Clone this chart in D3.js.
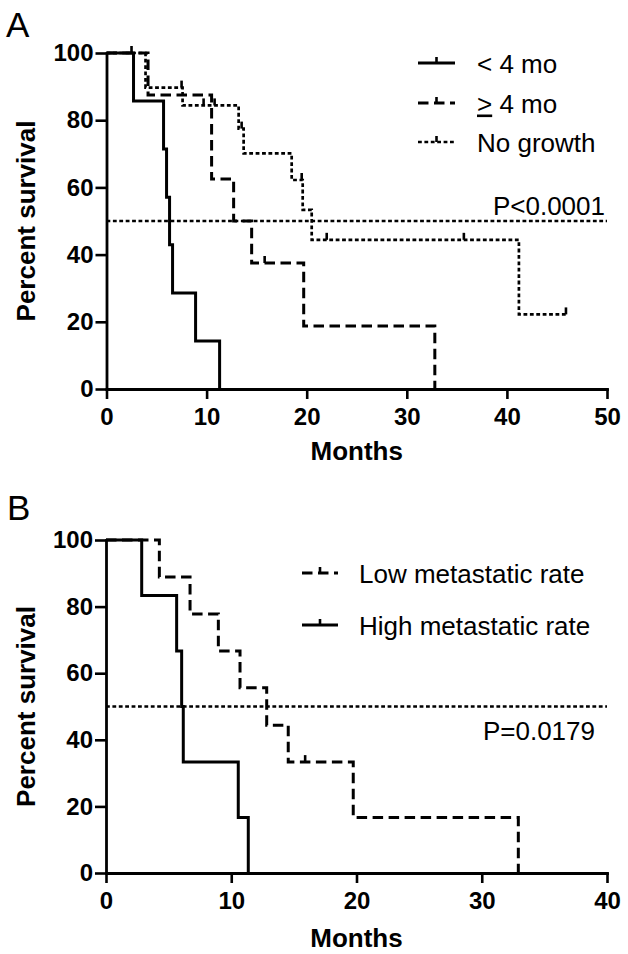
<!DOCTYPE html>
<html><head><meta charset="utf-8">
<script src="https://cdn.jsdelivr.net/npm/d3@7"></script>
<style>
body{margin:0;background:#fff;}
svg{display:block;font-family:"Liberation Sans",Arial,Helvetica,sans-serif;}
</style></head><body>
<svg id="chart" width="628" height="954"></svg>
<script>
// ---------- Shared tick labels ----------
const survTicks = [0, 20, 40, 60, 80, 100];
const monthTicksA = [0, 10, 20, 30, 40, 50];
const monthTicksB = [0, 10, 20, 30, 40];

// ---------- Panel A data (months, percent survival after event) ----------
const lt4Times   = [0, 2.7, 5.7, 6.0, 6.3, 6.6, 8.9, 11.3];
const lt4Surv    = [100, 85.7, 71.4, 57.1, 42.9, 28.6, 14.3, 0];
const lt4Censor  = [2.5];

const ge4Times   = [0, 4.15, 10.5, 12.7, 14.5, 19.7, 32.8];
const ge4Surv    = [100, 87.5, 62.5, 50, 37.5, 18.75, 0];
const ge4Censor  = [15.8];

const noGrowthTimes  = [0, 3.9, 7.6, 13.2, 13.7, 18.5, 19.6, 20.5, 41.2];
const noGrowthSurv   = [100, 89.7, 84.4, 77.5, 70.1, 62.2, 53.3, 44.4, 22.2];
const noGrowthCensor = [7.5, 9.7, 10.8, 13.5, 19.5, 22.0, 35.7, 45.9];

// ---------- Panel B data ----------
const lowTimes   = [0, 4.26, 6.71, 8.97, 10.7, 12.83, 14.55, 19.74, 32.92];
const lowSurv    = [100, 88.9, 77.8, 66.7, 55.6, 44.4, 33.3, 16.7, 0];
const lowCensor  = [15.9];

const highTimes  = [0, 2.85, 5.64, 6.04, 6.17, 10.56, 11.36];
const highSurv   = [100, 83.3, 66.7, 50, 33.3, 16.7, 0];
const highCensor = [];

const legendA = ["< 4 mo", "\u2265 4 mo", "No growth"];
const legendB = ["Low metastatic rate", "High metastatic rate"];
const pValueA = "P<0.0001";
const pValueB = "P=0.0179";
const medianLevel = 50;

// ---------- Styles ----------
const STY = {
  solid:  {w: 3,   dash: null},
  dashed: {w: 3,   dash: "10.5,5.5"},
  dotted: {w: 2.7, dash: "3.8,2.6"}
};

const svg = d3.select("#chart");

function survAt(times, surv, t) {
  let idx = d3.bisectRight(times, t) - 1;
  return surv[Math.max(0, idx)];
}

function drawPanel(o) {
  const x = d3.scaleLinear().domain(o.xDomain).range(o.xRange);
  const y = d3.scaleLinear().domain([0, 100]).range(o.yRange);
  const g = svg.append("g");

  // panel letter
  g.append("text").attr("x", o.letterX).attr("y", o.letterY)
    .attr("font-size", 35).text(o.letter);

  // axes
  const ya = g.append("g").attr("transform", `translate(${x(0)},0)`)
    .call(d3.axisLeft(y).tickValues(survTicks).tickSize(11).tickSizeOuter(0).tickPadding(2));
  const xa = g.append("g").attr("transform", `translate(0,${y(0)})`)
    .call(d3.axisBottom(x).tickValues(o.xTicks).tickSize(10).tickSizeOuter(0).tickPadding(9));
  [ya, xa].forEach(a => {
    a.select(".domain").attr("stroke", "#000").attr("stroke-width", 2.8).attr("stroke-linecap", "square");
    a.selectAll(".tick line").attr("stroke", "#000").attr("stroke-width", 2.6);
    a.selectAll(".tick text").attr("font-size", 24).attr("font-weight", "bold")
      .attr("fill", "#000").attr("font-family", "'Liberation Sans',Arial,sans-serif");
  });

  // axis titles
  g.append("text").attr("transform", `translate(35,${(o.yRange[0] + o.yRange[1]) / 2}) rotate(-90)`)
    .attr("text-anchor", "middle").attr("font-size", 26).attr("font-weight", "bold")
    .text("Percent survival");
  g.append("text").attr("x", (o.xRange[0] + o.xRange[1]) / 2).attr("y", o.xTitleY)
    .attr("text-anchor", "middle").attr("font-size", 26).attr("font-weight", "bold")
    .text("Months");

  // median line
  g.append("line").attr("x1", x(o.xDomain[0])).attr("x2", x(o.xDomain[1]))
    .attr("y1", y(medianLevel)).attr("y2", y(medianLevel))
    .attr("stroke", "#000").attr("stroke-width", 2.4).attr("stroke-dasharray", "3.8,2.6");

  // curves
  const line = d3.line().x(d => x(d[0])).y(d => y(d[1])).curve(d3.curveStepAfter);
  o.series.forEach(s => {
    const pts = s.times.map((t, i) => [t, s.surv[i]]);
    const lastT = s.times[s.times.length - 1];
    const endT = s.censor.length ? d3.max(s.censor) : lastT;
    if (endT > lastT) pts.push([endT, s.surv[s.surv.length - 1]]);
    const st = STY[s.style];
    g.append("path").attr("d", line(pts)).attr("fill", "none")
      .attr("stroke", "#000").attr("stroke-width", st.w)
      .attr("stroke-dasharray", st.dash);
    g.selectAll(null).data(s.censor).join("line")
      .attr("x1", d => x(d)).attr("x2", d => x(d))
      .attr("y1", d => y(survAt(s.times, s.surv, d)))
      .attr("y2", d => y(survAt(s.times, s.surv, d)) - 7)
      .attr("stroke", "#000").attr("stroke-width", 2.6);
  });

  // legend
  o.legend.forEach((lab, i) => {
    const s = o.legendSeries[i];
    const st = STY[s.style];
    const ry = o.legY[i];
    g.append("line").attr("x1", o.legX[0]).attr("x2", o.legX[1]).attr("y1", ry).attr("y2", ry)
      .attr("stroke", "#000").attr("stroke-width", st.w).attr("stroke-dasharray", st.dash);
    const mx = (o.legX[0] + o.legX[1]) / 2;
    g.append("line").attr("x1", mx).attr("x2", mx).attr("y1", ry).attr("y2", ry - 6)
      .attr("stroke", "#000").attr("stroke-width", 2.6);
    const t = g.append("text").attr("x", o.legTextX).attr("y", ry + 9.5).attr("font-size", 26);
    if (lab.startsWith("\u2265")) {
      t.append("tspan").attr("text-decoration", "underline").text(">");
      t.append("tspan").text(lab.slice(1));
    } else t.text(lab);
  });

  // p-value
  g.append("text").attr("x", o.pX).attr("y", o.pY).attr("text-anchor", "end")
    .attr("font-size", 26).text(o.pText);
}

const serLt4 = {times: lt4Times, surv: lt4Surv, censor: lt4Censor, style: "solid"};
const serGe4 = {times: ge4Times, surv: ge4Surv, censor: ge4Censor, style: "dashed"};
const serNo  = {times: noGrowthTimes, surv: noGrowthSurv, censor: noGrowthCensor, style: "dotted"};
const serLow = {times: lowTimes, surv: lowSurv, censor: lowCensor, style: "dashed"};
const serHigh= {times: highTimes, surv: highSurv, censor: highCensor, style: "solid"};

drawPanel({
  letter: "A", letterX: 6, letterY: 37,
  xDomain: [0, 50], xRange: [106.5, 607], yRange: [389, 53], xTicks: monthTicksA,
  xTitleY: 460,
  series: [serLt4, serGe4, serNo],
  legend: legendA, legendSeries: [serLt4, serGe4, serNo],
  legX: [418, 455], legY: [63, 103, 142], legTextX: 477,
  pText: pValueA, pX: 605, pY: 215
});

drawPanel({
  letter: "B", letterX: 7, letterY: 520,
  xDomain: [0, 40], xRange: [106, 607], yRange: [873, 540], xTicks: monthTicksB,
  xTitleY: 947,
  series: [serLow, serHigh],
  legend: legendB, legendSeries: [serLow, serHigh],
  legX: [302, 338], legY: [573, 625], legTextX: 359,
  pText: pValueB, pX: 595, pY: 740
});
</script>
</body></html>
